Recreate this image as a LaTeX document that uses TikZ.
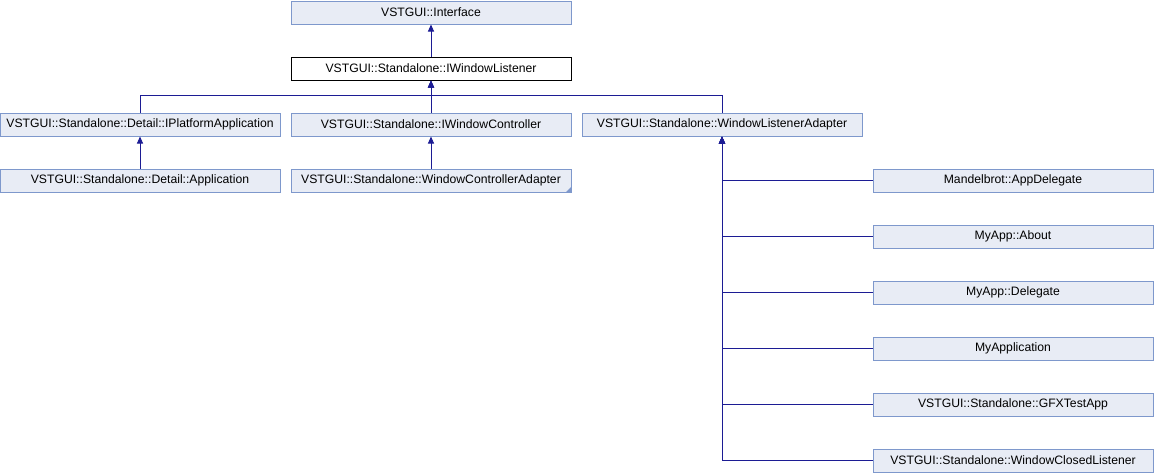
\documentclass[tikz,border=0pt]{standalone}
\usepackage{fontspec}
\setmainfont{Liberation Sans}
\usetikzlibrary{arrows.meta}
\definecolor{boxfill}{HTML}{E8ECF5}
\definecolor{boxline}{HTML}{7E98CC}
\definecolor{edgeblue}{HTML}{1C1C94}
\tikzset{
  cls/.style={draw=boxline, fill=boxfill, line width=1pt, minimum width=280pt,
    minimum height=23pt, inner sep=0pt, text=black,
    font=\fontsize{12.2}{14}\selectfont},
  current/.style={cls, draw=black, fill=white},
  inherit/.style={draw=edgeblue, line width=1pt,
    -{Triangle[length=7pt,width=6pt]}},
}
\begin{document}
\begin{tikzpicture}[x=1pt,y=-1pt]
\useasboundingbox (0,0) rectangle (1154,472);
% class boxes
\node[cls]     (iface) at (431,12.5)  {VSTGUI::Interface};
\node[current] (iwl)   at (431,68.5)  {VSTGUI::Standalone::IWindowListener};
\node[cls]     (ipa)   at (140,124.5) {VSTGUI::Standalone::Detail::IPlatformApplication};
\node[cls]     (iwc)   at (431,124.5) {VSTGUI::Standalone::IWindowController};
\node[cls]     (wla)   at (722,124.5) {VSTGUI::Standalone::WindowListenerAdapter};
\node[cls]     (app)   at (140,180.5) {VSTGUI::Standalone::Detail::Application};
\node[cls]     (wca)   at (431,180.5) {VSTGUI::Standalone::WindowControllerAdapter};
\node[cls]     (mand)  at (1013,180.5) {Mandelbrot::AppDelegate};
\node[cls]     (about) at (1013,236.5) {MyApp::About};
\node[cls]     (deleg) at (1013,292.5) {MyApp::Delegate};
\node[cls]     (myapp) at (1013,348.5) {MyApplication};
\node[cls]     (gfx)   at (1013,404.5) {VSTGUI::Standalone::GFXTestApp};
\node[cls]     (wcl)   at (1013,460.5) {VSTGUI::Standalone::WindowClosedListener};
% marker of a class with more derived classes
\fill[boxline] (wca.south east) -- ++(-6,0) -- ++(6,-6) -- cycle;
% inheritance edges
\draw[inherit] (iwl.north) -- (iface.south);
\draw[inherit] (ipa.north) -- ++(0,-17) -| (iwl.south);
\draw[inherit] (iwc.north) -- (iwl.south);
\draw[inherit] (wla.north) -- ++(0,-17) -| (iwl.south);
\draw[inherit] (app.north) -- (ipa.south);
\draw[inherit] (wca.north) -- (iwc.south);
\draw[inherit] (mand.west)  -| (wla.south);
\draw[inherit] (about.west) -| (wla.south);
\draw[inherit] (deleg.west) -| (wla.south);
\draw[inherit] (myapp.west) -| (wla.south);
\draw[inherit] (gfx.west)   -| (wla.south);
\draw[inherit] (wcl.west)   -| (wla.south);
\end{tikzpicture}
\end{document}
